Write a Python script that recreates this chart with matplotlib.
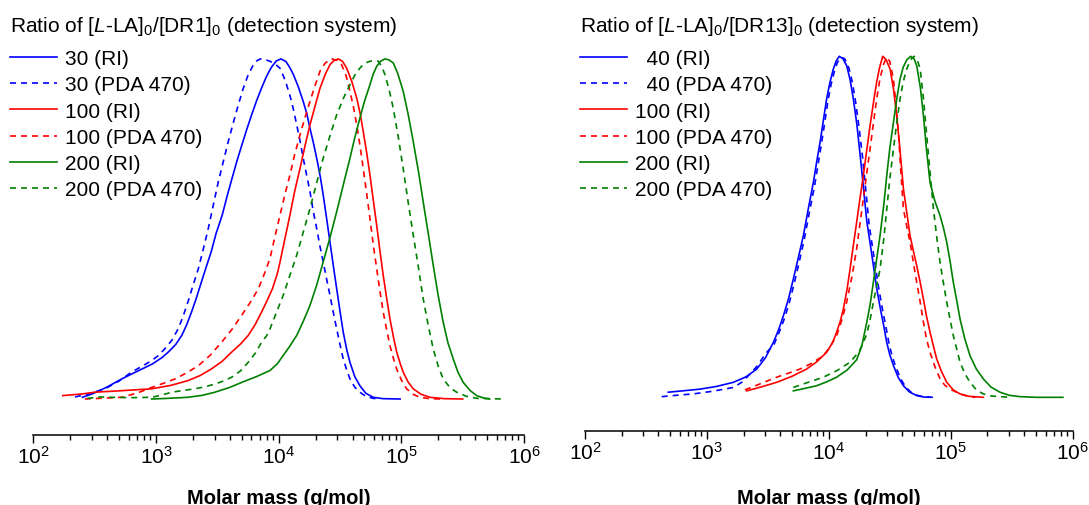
import numpy as np
import matplotlib.pyplot as plt

plt.rcParams['font.family'] = ['Liberation Sans', 'DejaVu Sans']
plt.rcParams['mathtext.fontset'] = 'custom'
plt.rcParams['mathtext.rm'] = 'Liberation Sans'
plt.rcParams['mathtext.it'] = 'Liberation Sans:italic'
plt.rcParams['mathtext.bf'] = 'Liberation Sans:bold'

# GPC traces: log10(molar mass) and normalised signal
# left panel: [L-LA]0/[DR1]0
dr1_30_ri_logM = [2.40, 2.48, 2.60, 2.72, 2.85, 2.97, 3.05, 3.10, 3.16, 3.21, 3.25, 3.29, 3.33, 3.37, 3.41,
                  3.45, 3.49, 3.54, 3.58, 3.62, 3.66, 3.70, 3.74, 3.78, 3.82, 3.86, 3.90, 3.94, 3.98, 4.02,
                  4.06, 4.09, 4.12, 4.16, 4.20, 4.23, 4.255, 4.28, 4.31, 4.34, 4.363, 4.39, 4.418, 4.445,
                  4.473, 4.50, 4.526, 4.555, 4.581, 4.62, 4.662, 4.71, 4.771, 4.85, 4.99]
dr1_30_ri_I = [0.005, 0.015, 0.035, 0.059, 0.082, 0.103, 0.122, 0.138, 0.160, 0.187, 0.218, 0.256, 0.298, 0.344,
               0.389, 0.433, 0.487, 0.541, 0.597, 0.649, 0.700, 0.747, 0.793, 0.836, 0.877, 0.914, 0.948, 0.975,
               0.994, 1.0, 0.992, 0.975, 0.954, 0.918, 0.875, 0.838, 0.796, 0.758, 0.708, 0.652, 0.600, 0.533,
               0.462, 0.393, 0.324, 0.258, 0.197, 0.145, 0.108, 0.066, 0.039, 0.017, 0.005, 0.001, 0.0]

dr1_30_pda_logM = [2.34, 2.45, 2.585, 2.70, 2.80, 2.89, 2.965, 3.02, 3.07, 3.13, 3.18, 3.22, 3.26, 3.30, 3.345,
                   3.385, 3.426, 3.467, 3.508, 3.55, 3.589, 3.63, 3.671, 3.71, 3.752, 3.79, 3.82, 3.85, 3.89,
                   3.93, 3.97, 4.01, 4.05, 4.09, 4.12, 4.147, 4.175, 4.20, 4.23, 4.255, 4.28, 4.31, 4.335,
                   4.363, 4.39, 4.418, 4.445, 4.473, 4.50, 4.526, 4.555, 4.581, 4.62, 4.662, 4.71, 4.77, 4.82]
dr1_30_pda_I = [0.006, 0.015, 0.03, 0.053, 0.079, 0.097, 0.113, 0.128, 0.147, 0.173, 0.206, 0.242, 0.285, 0.332,
                0.383, 0.440, 0.501, 0.570, 0.639, 0.700, 0.757, 0.812, 0.865, 0.912, 0.954, 0.980, 0.994, 1.0,
                0.998, 0.993, 0.985, 0.973, 0.940, 0.895, 0.852, 0.806, 0.757, 0.708, 0.655, 0.610, 0.556, 0.501,
                0.452, 0.403, 0.354, 0.305, 0.255, 0.206, 0.160, 0.118, 0.085, 0.059, 0.035, 0.020, 0.008, 0.002,
                0.0]

dr1_100_ri_logM = [2.24, 2.40, 2.50, 2.70, 2.965, 3.12, 3.26, 3.36, 3.45, 3.54, 3.617, 3.69, 3.752, 3.81, 3.861,
                   3.90, 3.95, 3.99, 4.011, 4.05, 4.092, 4.13, 4.174, 4.215, 4.255, 4.30, 4.337, 4.38, 4.418,
                   4.45, 4.486, 4.52, 4.554, 4.595, 4.636, 4.665, 4.689, 4.717, 4.744, 4.77, 4.799, 4.825,
                   4.852, 4.88, 4.907, 4.935, 4.962, 4.99, 5.015, 5.055, 5.097, 5.16, 5.233, 5.35, 5.50]
dr1_100_ri_I = [0.01, 0.015, 0.02, 0.024, 0.03, 0.040, 0.054, 0.069, 0.088, 0.111, 0.138, 0.162, 0.187, 0.220,
                0.256, 0.285, 0.325, 0.370, 0.403, 0.470, 0.541, 0.610, 0.678, 0.745, 0.806, 0.866, 0.914, 0.955,
                0.983, 0.995, 1.0, 0.993, 0.973, 0.935, 0.885, 0.838, 0.787, 0.725, 0.659, 0.588, 0.511, 0.437,
                0.364, 0.297, 0.236, 0.183, 0.138, 0.105, 0.079, 0.050, 0.03, 0.014, 0.005, 0.001, 0.0]

dr1_100_pda_logM = [2.42, 2.55, 2.72, 2.85, 2.965, 3.06, 3.155, 3.25, 3.345, 3.44, 3.535, 3.62, 3.698, 3.77,
                    3.834, 3.88, 3.929, 3.97, 4.011, 4.05, 4.092, 4.13, 4.174, 4.215, 4.255, 4.30, 4.337, 4.38,
                    4.432, 4.475, 4.513, 4.55, 4.581, 4.61, 4.636, 4.663, 4.689, 4.717, 4.744, 4.77, 4.799,
                    4.825, 4.852, 4.88, 4.907, 4.935, 4.962, 5.00, 5.043, 5.10, 5.152, 5.23, 5.315]
dr1_100_pda_I = [0.0, 0.002, 0.005, 0.018, 0.034, 0.046, 0.059, 0.077, 0.098, 0.128, 0.167, 0.205, 0.246, 0.285,
                 0.324, 0.365, 0.413, 0.478, 0.541, 0.600, 0.659, 0.718, 0.777, 0.828, 0.875, 0.925, 0.964, 0.988,
                 1.0, 0.996, 0.983, 0.950, 0.905, 0.858, 0.806, 0.745, 0.678, 0.605, 0.531, 0.457, 0.383, 0.318,
                 0.256, 0.204, 0.157, 0.120, 0.088, 0.056, 0.03, 0.013, 0.005, 0.001, 0.0]

dr1_200_ri_logM = [2.965, 3.10, 3.26, 3.38, 3.48, 3.60, 3.70, 3.82, 3.93, 3.99, 4.037, 4.09, 4.147, 4.20, 4.255,
                   4.31, 4.363, 4.42, 4.473, 4.527, 4.581, 4.62, 4.662, 4.70, 4.744, 4.77, 4.799, 4.83, 4.866,
                   4.90, 4.934, 4.97, 5.015, 5.055, 5.097, 5.14, 5.178, 5.22, 5.26, 5.30, 5.341, 5.38, 5.423,
                   5.46, 5.504, 5.56, 5.614, 5.67, 5.72]
dr1_200_ri_I = [0.0, 0.002, 0.005, 0.011, 0.02, 0.034, 0.049, 0.066, 0.084, 0.104, 0.128, 0.155, 0.187, 0.228,
                0.275, 0.335, 0.403, 0.477, 0.551, 0.630, 0.708, 0.768, 0.826, 0.876, 0.924, 0.955, 0.978, 0.993,
                1.0, 0.997, 0.988, 0.958, 0.905, 0.838, 0.757, 0.668, 0.580, 0.485, 0.393, 0.305, 0.226, 0.165,
                0.118, 0.080, 0.049, 0.025, 0.01, 0.003, 0.0]

dr1_200_pda_logM = [2.44, 2.55, 2.64, 2.80, 2.965, 3.05, 3.128, 3.22, 3.318, 3.40, 3.481, 3.55, 3.617, 3.69,
                    3.752, 3.81, 3.861, 3.90, 3.929, 3.98, 4.037, 4.09, 4.147, 4.20, 4.255, 4.31, 4.363, 4.42,
                    4.473, 4.53, 4.581, 4.62, 4.662, 4.70, 4.744, 4.78, 4.812, 4.84, 4.866, 4.90, 4.934, 4.975,
                    5.015, 5.055, 5.097, 5.14, 5.178, 5.22, 5.26, 5.30, 5.341, 5.40, 5.451, 5.53, 5.614, 5.83]
dr1_200_pda_I = [0.002, 0.006, 0.005, 0.004, 0.005, 0.012, 0.02, 0.025, 0.03, 0.036, 0.044, 0.053, 0.064, 0.083,
                 0.108, 0.135, 0.167, 0.185, 0.206, 0.253, 0.305, 0.362, 0.423, 0.490, 0.560, 0.636, 0.708, 0.776,
                 0.836, 0.886, 0.924, 0.952, 0.973, 0.987, 0.993, 0.995, 0.993, 0.978, 0.954, 0.910, 0.855, 0.770,
                 0.678, 0.580, 0.482, 0.385, 0.295, 0.215, 0.147, 0.097, 0.059, 0.032, 0.02, 0.008, 0.002, 0.0]

# right panel: [L-LA]0/[DR13]0
dr13_40_ri_logM = [2.683, 2.80, 2.943, 3.08, 3.217, 3.32, 3.409, 3.48, 3.545, 3.59, 3.627, 3.67, 3.709, 3.75,
                   3.791, 3.83, 3.873, 3.90, 3.928, 3.955, 3.982, 4.01, 4.037, 4.06, 4.086, 4.115, 4.147, 4.175,
                   4.201, 4.23, 4.256, 4.285, 4.311, 4.34, 4.365, 4.39, 4.42, 4.45, 4.475, 4.50, 4.53, 4.57,
                   4.612, 4.66, 4.721, 4.78, 4.83]
dr13_40_ri_I = [0.015, 0.019, 0.024, 0.032, 0.044, 0.060, 0.083, 0.116, 0.161, 0.200, 0.239, 0.290, 0.347, 0.410,
                0.474, 0.550, 0.630, 0.690, 0.748, 0.812, 0.875, 0.925, 0.963, 0.986, 1.0, 0.993, 0.972, 0.930,
                0.875, 0.800, 0.713, 0.612, 0.517, 0.448, 0.388, 0.325, 0.265, 0.210, 0.161, 0.125, 0.093, 0.058,
                0.034, 0.016, 0.005, 0.001, 0.0]

dr13_40_pda_logM = [2.629, 2.75, 2.888, 3.05, 3.217, 3.29, 3.353, 3.42, 3.48, 3.55, 3.595, 3.637, 3.68, 3.72,
                    3.76, 3.80, 3.84, 3.883, 3.91, 3.938, 3.965, 3.992, 4.02, 4.047, 4.07, 4.10, 4.13, 4.165,
                    4.195, 4.22, 4.25, 4.278, 4.305, 4.33, 4.36, 4.385, 4.41, 4.44, 4.47, 4.495, 4.52, 4.55,
                    4.59, 4.63, 4.68, 4.74, 4.80, 4.87]
dr13_40_pda_I = [0.002, 0.006, 0.010, 0.018, 0.029, 0.045, 0.068, 0.095, 0.128, 0.155, 0.193, 0.232, 0.283,
                 0.340, 0.402, 0.466, 0.542, 0.620, 0.680, 0.740, 0.803, 0.868, 0.920, 0.958, 0.982, 0.997, 0.993,
                 0.965, 0.920, 0.865, 0.785, 0.700, 0.600, 0.508, 0.435, 0.378, 0.318, 0.258, 0.203, 0.155, 0.120,
                 0.088, 0.054, 0.030, 0.013, 0.004, 0.001, 0.0]

dr13_100_ri_logM = [3.326, 3.45, 3.572, 3.70, 3.818, 3.90, 3.982, 4.03, 4.064, 4.095, 4.119, 4.15, 4.174, 4.20,
                    4.228, 4.255, 4.283, 4.31, 4.338, 4.365, 4.392, 4.415, 4.442, 4.47, 4.502, 4.53, 4.557,
                    4.585, 4.612, 4.64, 4.666, 4.693, 4.721, 4.75, 4.776, 4.80, 4.83, 4.858, 4.885, 4.925,
                    4.967, 5.02, 5.076, 5.15, 5.267]
dr13_100_ri_I = [0.019, 0.031, 0.044, 0.062, 0.083, 0.104, 0.132, 0.160, 0.191, 0.225, 0.259, 0.318, 0.376,
                 0.443, 0.513, 0.582, 0.650, 0.722, 0.796, 0.862, 0.924, 0.965, 1.0, 0.990, 0.963, 0.905, 0.826,
                 0.720, 0.611, 0.540, 0.474, 0.430, 0.386, 0.336, 0.288, 0.240, 0.191, 0.150, 0.112, 0.075,
                 0.044, 0.022, 0.01, 0.003, 0.0]

dr13_100_pda_logM = [3.312, 3.44, 3.572, 3.67, 3.764, 3.86, 3.955, 4.01, 4.064, 4.105, 4.146, 4.19, 4.228, 4.255,
                     4.283, 4.31, 4.338, 4.365, 4.392, 4.42, 4.45, 4.475, 4.50, 4.53, 4.55, 4.571, 4.59, 4.612,
                     4.64, 4.666, 4.693, 4.721, 4.75, 4.776, 4.80, 4.83, 4.87, 4.912, 4.95, 4.994, 5.076, 5.14,
                     5.20]
dr13_100_pda_I = [0.022, 0.040, 0.059, 0.071, 0.083, 0.100, 0.122, 0.148, 0.181, 0.225, 0.279, 0.355, 0.435,
                  0.508, 0.582, 0.655, 0.728, 0.802, 0.875, 0.935, 0.978, 0.997, 0.985, 0.933, 0.860, 0.777,
                  0.665, 0.552, 0.500, 0.455, 0.396, 0.337, 0.278, 0.220, 0.173, 0.132, 0.090, 0.054, 0.036,
                  0.024, 0.01, 0.003, 0.0]

dr13_200_ri_logM = [3.709, 3.80, 3.90, 3.98, 4.064, 4.15, 4.228, 4.27, 4.311, 4.34, 4.365, 4.39, 4.42, 4.45,
                    4.475, 4.50, 4.53, 4.557, 4.584, 4.61, 4.64, 4.672, 4.70, 4.721, 4.75, 4.776, 4.80, 4.83,
                    4.87, 4.912, 4.94, 4.967, 4.995, 5.021, 5.05, 5.076, 5.115, 5.158, 5.21, 5.267, 5.33, 5.404,
                    5.48, 5.568, 5.70, 5.92]
dr13_200_ri_I = [0.019, 0.026, 0.034, 0.045, 0.059, 0.080, 0.110, 0.150, 0.220, 0.275, 0.337, 0.400, 0.474,
                 0.562, 0.650, 0.730, 0.806, 0.875, 0.933, 0.968, 0.990, 1.0, 0.992, 0.972, 0.910, 0.826, 0.730,
                 0.630, 0.575, 0.533, 0.497, 0.455, 0.398, 0.337, 0.282, 0.230, 0.172, 0.122, 0.083, 0.054,
                 0.030, 0.015, 0.006, 0.002, 0.0, 0.0]

dr13_200_pda_logM = [3.709, 3.83, 3.955, 4.07, 4.174, 4.25, 4.311, 4.34, 4.365, 4.39, 4.42, 4.45, 4.475, 4.50,
                     4.53, 4.557, 4.584, 4.61, 4.639, 4.67, 4.699, 4.725, 4.749, 4.775, 4.803, 4.83, 4.858,
                     4.885, 4.912, 4.94, 4.967, 4.995, 5.021, 5.05, 5.076, 5.115, 5.158, 5.21, 5.267, 5.33,
                     5.404, 5.486]
dr13_200_pda_I = [0.029, 0.044, 0.059, 0.079, 0.103, 0.135, 0.185, 0.230, 0.279, 0.322, 0.376, 0.462, 0.552,
                  0.640, 0.728, 0.805, 0.875, 0.925, 0.963, 0.990, 1.0, 0.990, 0.963, 0.880, 0.767, 0.660, 0.552,
                  0.470, 0.396, 0.335, 0.279, 0.228, 0.181, 0.140, 0.103, 0.070, 0.044, 0.022, 0.01, 0.004,
                  0.002, 0.0]

left_title = r'Ratio of [$\mathit{L}$-LA]$_0$/[DR1]$_0$ (detection system)'
right_title = r'Ratio of [$\mathit{L}$-LA]$_0$/[DR13]$_0$ (detection system)'
left_labels = ['30 (RI)', '30 (PDA 470)', '100 (RI)', '100 (PDA 470)', '200 (RI)', '200 (PDA 470)']
right_labels = ['  40 (RI)', '  40 (PDA 470)', '100 (RI)', '100 (PDA 470)', '200 (RI)', '200 (PDA 470)']

left_series = [(dr1_30_ri_logM, dr1_30_ri_I), (dr1_30_pda_logM, dr1_30_pda_I),
               (dr1_100_ri_logM, dr1_100_ri_I), (dr1_100_pda_logM, dr1_100_pda_I),
               (dr1_200_ri_logM, dr1_200_ri_I), (dr1_200_pda_logM, dr1_200_pda_I)]
right_series = [(dr13_40_ri_logM, dr13_40_ri_I), (dr13_40_pda_logM, dr13_40_pda_I),
                (dr13_100_ri_logM, dr13_100_ri_I), (dr13_100_pda_logM, dr13_100_pda_I),
                (dr13_200_ri_logM, dr13_200_ri_I), (dr13_200_pda_logM, dr13_200_pda_I)]

colors = ['#0000ff', '#0000ff', '#ff0000', '#ff0000', '#008000', '#008000']
styles = ['-', (0, (3.6, 3.0)), '-', (0, (3.6, 3.0)), '-', (0, (3.6, 3.0))]

fig = plt.figure(figsize=(10.89, 5.06), dpi=100)
ax1 = fig.add_axes([0.0306, 0.1389, 0.4506, 0.861])
ax2 = fig.add_axes([0.5372, 0.1462, 0.4478, 0.8538])


def draw(ax, series, labels, title, ylim, x0, lpad):
    for (lm, inten), c, ls, lab in zip(series, colors, styles, labels):
        ax.plot(10 ** np.array(lm), inten, color=c, linestyle=ls, lw=1.2, label=lab)
    ax.set_xscale('log')
    ax.set_xlim(1e2, 1e6)
    ax.set_ylim(*ylim)
    for s in ['left', 'right', 'top']:
        ax.spines[s].set_visible(False)
    ax.spines['bottom'].set_linewidth(1.1)
    ax.set_yticks([])
    ax.tick_params(axis='x', which='major', direction='out', length=6, width=1.0,
                   labelsize=15, pad=1)
    ax.tick_params(axis='x', which='minor', direction='out', length=3.5, width=1.0)
    ax.set_xlabel('Molar mass (g/mol)', fontsize=14.5, fontweight='bold', labelpad=lpad)
    fig.text(x0 / 1089, 1 - 32 / 506, title, fontsize=15, ha='left', va='baseline')
    ax.legend(loc='upper left', bbox_to_anchor=(x0 / 1089, 1 - 50 / 506), bbox_transform=fig.transFigure,
              frameon=False, fontsize=15, handlelength=2.25, handletextpad=0.38,
              labelspacing=0.35, borderpad=0, borderaxespad=0)


draw(ax1, left_series, left_labels, left_title, (-0.105, 1.176), 10, 15.5)
draw(ax2, right_series, right_labels, right_title, (-0.0988, 1.168), 580, 18)

fig.savefig('out.png', dpi=100)
